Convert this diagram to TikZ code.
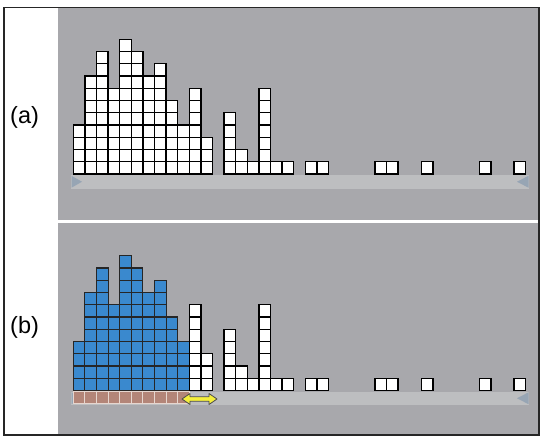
\documentclass[tikz,border=0pt]{standalone}
\usepackage{fontspec}
\setmainfont{Liberation Sans}
\definecolor{panelgray}{HTML}{A8A8AC}
\definecolor{bargray}{HTML}{BDBEC0}
\definecolor{tripgray}{HTML}{97A5B4}
\definecolor{cellblue}{HTML}{3A89CE}
\definecolor{cellbrown}{HTML}{B38578}
\definecolor{brownedge}{HTML}{E6D6CF}
\definecolor{arrowyellow}{HTML}{F4EE3C}
\tikzset{
  whitecell/.style={fill=white,draw=black,line width=1.3pt},
  bluecell/.style={fill=cellblue,draw=black!85,line width=1.1pt},
  browncell/.style={fill=cellbrown,draw=brownedge,line width=0.9pt},
  panel/.style={fill=panelgray,draw=none},
  axisbar/.style={fill=bargray,draw=none},
  axistip/.style={fill=tripgray,draw=none},
  lbl/.style={font=\fontsize{23.5}{26}\selectfont,anchor=base west,inner sep=0pt},
  yarrow/.style={fill=arrowyellow,draw=black!70,line width=0.8pt,line join=round}
}
\begin{document}
\begin{tikzpicture}[x=1pt,y=-1pt]
\useasboundingbox (0,0) rectangle (541,437);
\fill[white] (0,0) rectangle (541,437);
% panels
\fill[panel] (57.5,8) rectangle (539,220.3);
\fill[panel] (57.5,222.8) rectangle (539,434.5);
% frame
\draw[black!85,line width=1.5pt] (4.2,7.5) rectangle (539.2,435.2);
% labels
\node[lbl] (la) at (10,123.5) {(a)};
\node[lbl] (lb) at (10,333.5) {(b)};
% axis bars
\foreach \yb in {175,391.5}{
  \fill[axisbar] (71,\yb) rectangle (529,\yb+13.5);
  \fill[axistip] (71.5,\yb+0.8) -- (82,\yb+6.75) -- (71.5,\yb+12.7) -- cycle;
  \fill[axistip] (528.5,\yb+0.8) -- (517,\yb+6.75) -- (528.5,\yb+12.7) -- cycle;
}
% histogram (a)
\foreach \s/\n in {0/4,1/8,2/10,3/7,4/11,5/10,6/8,7/9,8/6,9/4,10/7,11/3,
                   13/5,14/2,15/1,16/7,17/1,18/1,20/1,21/1,26/1,27/1,30/1,35/1,38/1}{
  \foreach \j in {1,...,\n}{
    \draw[whitecell] ({73.3+\s*11.6},{174-\j*12.25}) rectangle ({73.3+(\s+1)*11.6},{174-(\j-1)*12.25});
  }
}
% histogram (b)
\foreach \s/\n in {0/4,1/8,2/10,3/7,4/11,5/10,6/8,7/9,8/6,9/4,10/7,11/3,
                   13/5,14/2,15/1,16/7,17/1,18/1,20/1,21/1,26/1,27/1,30/1,35/1,38/1}{
  \ifnum\s<10\relax
    \def\cst{bluecell}
  \else
    \def\cst{whitecell}
  \fi
  \foreach \j in {1,...,\n}{
    \draw[\cst] ({73.3+\s*11.6},{390.5-\j*12.25}) rectangle ({73.3+(\s+1)*11.6},{390.5-(\j-1)*12.25});
  }
}
% brown cells on axis (b)
\foreach \s in {0,...,9}{
  \draw[browncell] ({73.3+\s*11.6},391.8) rectangle ({73.3+(\s+1)*11.6},403.6);
}
% yellow double arrow
\draw[yarrow] (182,399) -- (190,393.5) -- (190,396.8) -- (209,396.8) -- (209,393.5) -- (217,399)
  -- (209,404.5) -- (209,401.2) -- (190,401.2) -- (190,404.5) -- cycle;
\end{tikzpicture}
\end{document}
